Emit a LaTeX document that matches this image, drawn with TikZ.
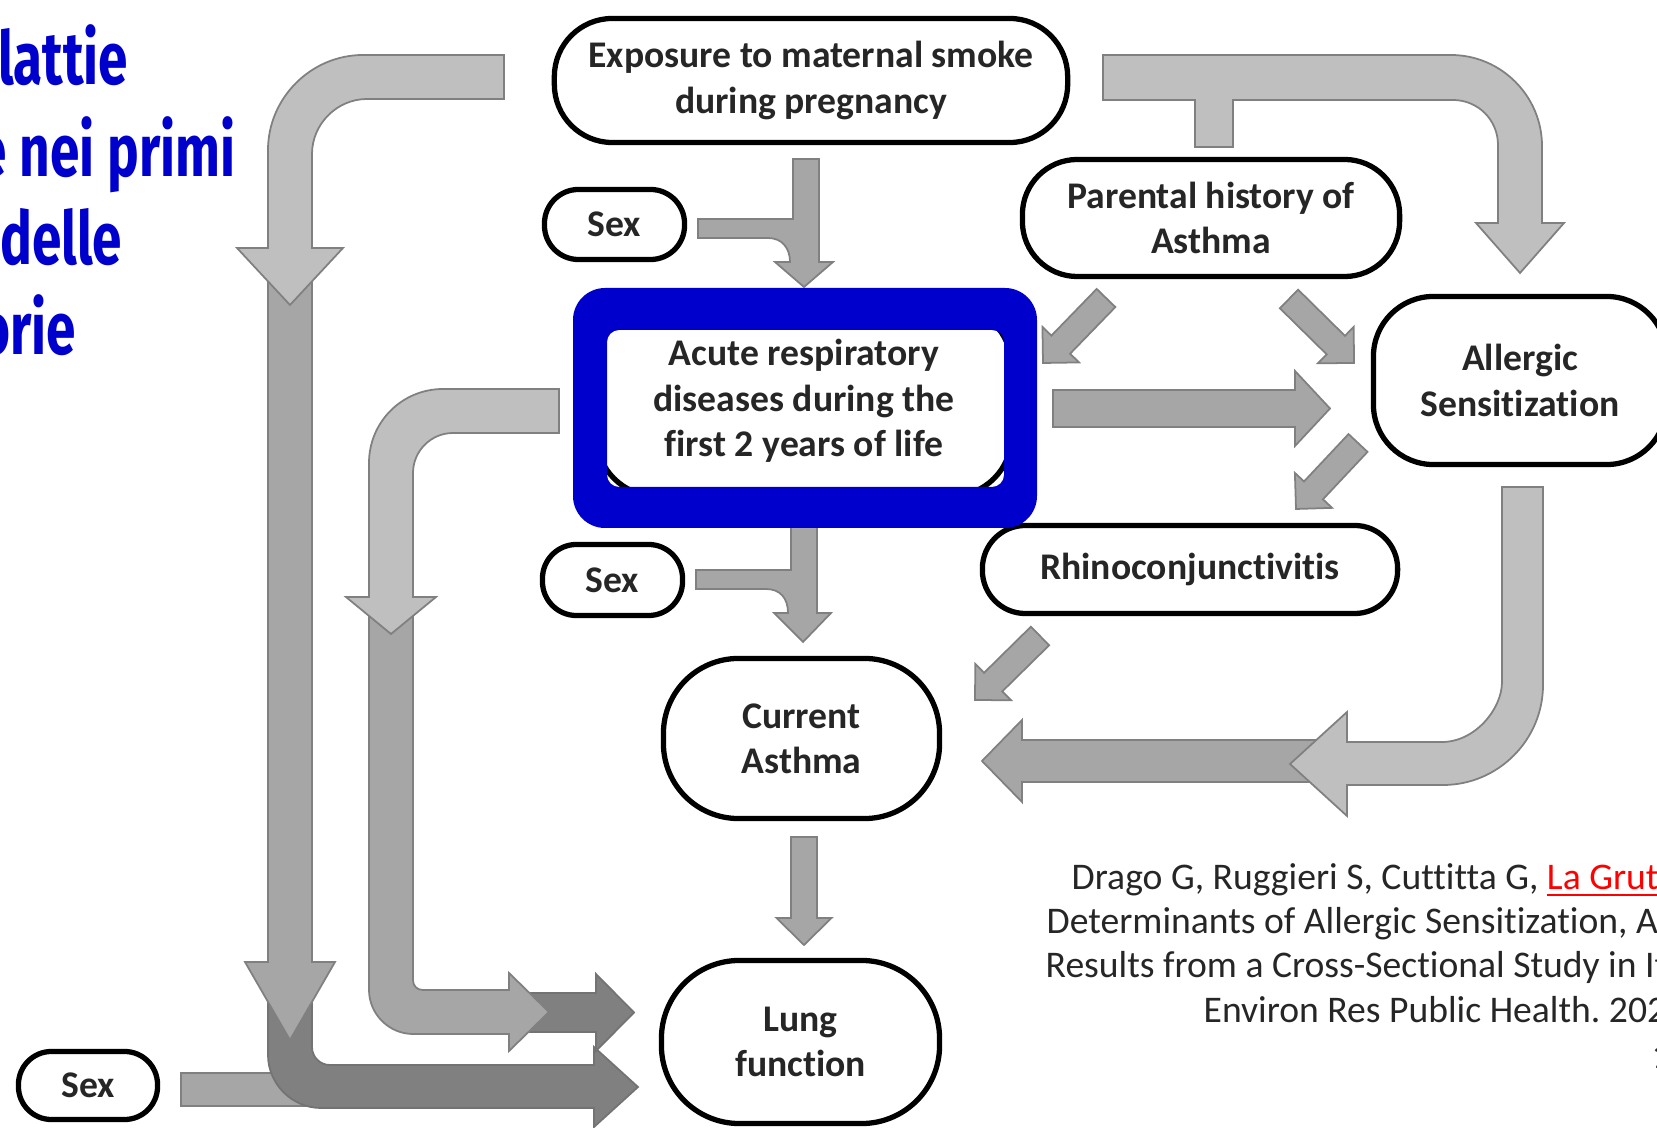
\documentclass[tikz,border=0pt]{standalone}
\usepackage{fontspec}
\setmainfont[Ligatures=NoCommon]{Carlito}
\newfontfamily\titlefont[FakeStretch=0.72]{Fira Sans}
\usetikzlibrary{calc}
\definecolor{markblue}{RGB}{0,0,204}
\definecolor{linkred}{RGB}{255,0,0}
\definecolor{lightarrow}{gray}{0.75}
\definecolor{midarrow}{gray}{0.65}
\definecolor{darkarrow}{gray}{0.5}
\def\blockarrow[#1](#2)(#3)(#4:#5:#6){\path ($(#3)!#6!(#2)$) coordinate (ba-h); \draw[#1] ($(#2)!#4!90:(ba-h)$) -- ($(ba-h)!#4!-90:(#2)$) -- ($(ba-h)!#5!-90:(#2)$) -- (#3) -- ($(ba-h)!#5!90:(#2)$) -- ($(ba-h)!#4!90:(#2)$) -- ($(#2)!#4!-90:(ba-h)$) -- cycle;}
\tikzset{
	ovalbox/.style={draw=black, line width=1.5pt, fill=white, text=black!85, align=center, inner sep=0pt, font=\bfseries\fontsize{10.7}{12.9}\selectfont},
	lightfill/.style={fill=lightarrow, draw=black!50, line width=0.5pt},
	midfill/.style={fill=midarrow, draw=black!50, line width=0.5pt},
	darkfill/.style={fill=darkarrow, draw=black!55, line width=0.5pt},
	titletext/.style={text=markblue, inner sep=0pt, anchor=base east, font=\titlefont\bfseries\fontsize{21}{25}\selectfont},
	citetext/.style={text=black!85, inner sep=0pt, anchor=base west, font=\frenchspacing\fontsize{10.7}{12.8}\selectfont}
}

\begin{document}
\begin{tikzpicture}[x=0.01cm, y=-0.01cm]
		%%%%% START %%%%%
		\useasboundingbox (0, 0) rectangle (1657, 1128);
		\clip (0, 0) rectangle (1657, 1128);
		\fill[white] (0, 0) rectangle (1657, 1128);
		
		\node[titletext] (title1) at (129, 85) {lattie};
		\node[titletext] (title2) at (236, 177) {e nei primi};
		\node[titletext] (title3) at (123, 265) {delle};
		\node[titletext] (title4) at (77, 355) {orie};
		
		\draw[midfill] (181, 1073) rectangle (310, 1106);
		\draw[darkfill] (268, 990) -- (268, 1055) .. controls (268, 1084) and (292, 1108) .. (321, 1108) -- (594, 1108) -- (594, 1127) -- (638, 1087) -- (594, 1047) -- (594, 1065) -- (330, 1065) .. controls (320, 1065) and (312, 1057) .. (312, 1047) -- (312, 990) -- cycle;
		\blockarrow[midfill](290, 270)(290, 1040)(0.22cm:0.45cm:0.78cm);
		\draw[lightfill] (504, 55) -- (363, 55) .. controls (311, 55) and (268, 98) .. (268, 150) -- (268, 248) -- (237, 248) -- (290, 305) -- (343, 248) -- (312, 248) -- (312, 154) .. controls (312, 124) and (337, 99) .. (367, 99) -- (504, 99) -- cycle;
		
		\blockarrow[darkfill](480, 1012.5)(634, 1012.5)(0.195cm:0.385cm:0.38cm);
		\draw[midfill] (369, 615) -- (369, 990) .. controls (369, 1014) and (389, 1034) .. (413, 1034) -- (509, 1034) -- (509, 1051) -- (549, 1012) -- (509, 973) -- (509, 990) -- (423, 990) .. controls (417, 990) and (413, 986) .. (413, 980) -- (413, 615) -- cycle;
		\draw[lightfill] (559, 389) -- (443, 389) .. controls (402, 389) and (369, 422) .. (369, 463) -- (369, 597) -- (346, 597) -- (391, 634) -- (436, 597) -- (413, 597) -- (413, 473) .. controls (413, 451) and (431, 433) .. (453, 433) -- (559, 433) -- cycle;
		
		\draw[midfill] (698, 219) -- (793, 219) -- (793, 159) -- (819, 159) -- (819, 262) -- (833, 262) -- (804, 287) -- (775, 262) -- (790, 262) .. controls (790, 248) and (782, 238) .. (768, 238) -- (698, 238) -- cycle;
		\draw[midfill] (696, 570) -- (791, 570) -- (791, 505) -- (817, 505) -- (817, 613) -- (831, 613) -- (803, 642) -- (774, 613) -- (788, 613) .. controls (788, 598) and (780, 589) .. (766, 589) -- (696, 589) -- cycle;
		\blockarrow[midfill](804, 837)(804, 945)(0.13cm:0.275cm:0.27cm);
		
		\blockarrow[midfill](1338, 761)(982, 761)(0.21cm:0.41cm:0.40cm);
		\draw[lightfill] (1502, 487) -- (1543, 487) -- (1543, 685) .. controls (1543, 740) and (1498, 785) .. (1443, 785) -- (1347, 785) -- (1347, 816) -- (1290, 764) -- (1347, 712) -- (1347, 742) -- (1442, 742) .. controls (1475, 742) and (1502, 709) .. (1502, 682) -- cycle;
		\draw[lightfill] (1103, 55) -- (1451, 55) .. controls (1501, 55) and (1542, 96) .. (1542, 146) -- (1542, 223) -- (1564, 223) -- (1520, 273) -- (1476, 223) -- (1498, 223) -- (1498, 145) .. controls (1498, 120) and (1478, 100) .. (1453, 100) -- (1233, 100) -- (1233, 147) -- (1195, 147) -- (1195, 100) -- (1103, 100) -- cycle;
		
		\blockarrow[midfill](1106, 298)(1043, 363)(0.13cm:0.255cm:0.255cm);
		\blockarrow[midfill](1289, 299)(1354, 363)(0.13cm:0.255cm:0.255cm);
		\blockarrow[midfill](1053, 408.5)(1330, 408.5)(0.185cm:0.375cm:0.35cm);
		\blockarrow[midfill](1358, 443)(1296, 509)(0.13cm:0.255cm:0.255cm);
		\blockarrow[midfill](1040, 636)(975, 700)(0.13cm:0.255cm:0.255cm);
		
		\node[ovalbox, minimum width=5.13cm, minimum height=1.24cm, rounded corners=0.58cm] (smoke) at (811, 80.5) {Exposure to maternal smoke\\during pregnancy};
		\node[ovalbox, minimum width=1.40cm, minimum height=0.70cm, rounded corners=0.34cm] (sex1) at (614.5, 224.5) {Sex};
		\node[ovalbox, minimum width=3.77cm, minimum height=1.17cm, rounded corners=0.55cm] (parental) at (1211, 218) {Parental history of\\Asthma};
		\node[ovalbox, minimum width=2.93cm, minimum height=1.68cm, rounded corners=0.6cm] (allergic) at (1520, 380.5) {Allergic\\Sensitization};
		\node[ovalbox, minimum width=1.40cm, minimum height=0.71cm, rounded corners=0.34cm] (sex2) at (612.5, 580) {Sex};
		\node[ovalbox, minimum width=4.15cm, minimum height=0.88cm, rounded corners=0.43cm] (rhino) at (1190, 569.5) {Rhinoconjunctivitis};
		\node[ovalbox, minimum width=2.76cm, minimum height=1.60cm, rounded corners=0.75cm] (asthma) at (801.5, 738.5) {Current\\Asthma};
		\node[ovalbox, minimum width=2.78cm, minimum height=1.63cm, rounded corners=0.78cm] (lung) at (800.5, 1042) {Lung\\function};
		\node[ovalbox, minimum width=1.39cm, minimum height=0.68cm, rounded corners=0.33cm] (sex3) at (88, 1085.5) {Sex};
		
		\node[ovalbox, minimum width=4.15cm, minimum height=1.90cm, rounded corners=0.6cm] (acute) at (804, 401) {Acute respiratory\\diseases during the\\first 2 years of life};
		\fill[markblue, even odd rule, rounded corners=0.32cm] (573, 288) rectangle (1037, 528) [rounded corners=0.12cm] (607, 330) rectangle (1004, 487);
		
		\node[citetext] (cite1) at (1071, 890) {Drago G, Ruggieri S, Cuttitta G, {\color{linkred}\underline{La Grut}}};
		\node[citetext] (cite2) at (1046, 933) {Determinants of Allergic Sensitization, A};
		\node[citetext] (cite3) at (1045, 978) {Results from a Cross-Sectional Study in It};
		\node[citetext] (cite4) at (1203, 1023) {Environ Res Public Health. 202};
		\node[citetext] (cite5) at (1651, 1068) {1};
		%%%%% END %%%%%
\end{tikzpicture}
\end{document}
